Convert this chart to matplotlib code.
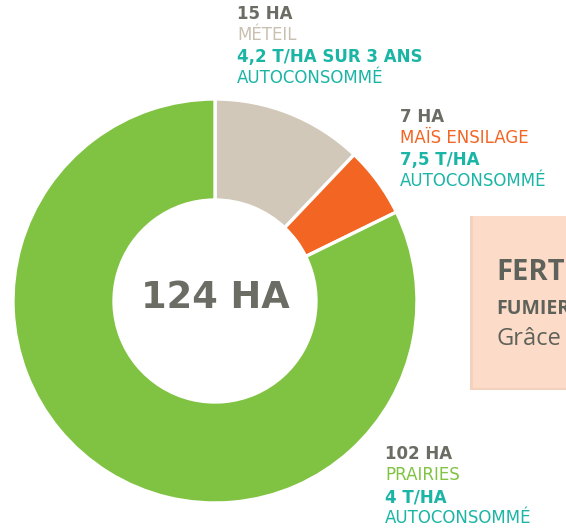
import matplotlib
matplotlib.use("Agg")
import matplotlib.pyplot as plt
from matplotlib.patches import Rectangle

# Data
categories = ["MÉTEIL", "MAÏS ENSILAGE", "PRAIRIES"]
hectares = [15, 7, 102]
yields = ["4,2 T/HA SUR 3 ANS", "7,5 T/HA", "4 T/HA"]
usage = ["AUTOCONSOMMÉ", "AUTOCONSOMMÉ", "AUTOCONSOMMÉ"]
total_label = "124 HA"
colors = ["#d1c8b9", "#f26522", "#80c342"]
label_colors = ["#c9c0b1", "#f26522", "#80c342"]

GREY = "#6b6c63"
TEAL = "#1bb5a6"
FONT = "DejaVu Sans"

fig = plt.figure(figsize=(5.66, 5.28), dpi=100)
ax = fig.add_axes([0, 0, 1, 1])
ax.set_xlim(0, 566)
ax.set_ylim(528, 0)
ax.axis("off")

# Peach box (partially visible)
ax.add_patch(Rectangle((470, 216), 120, 174, facecolor="#f3d2bd", edgecolor="none", zorder=1))
ax.add_patch(Rectangle((473, 216), 120, 172, facecolor="#fcdcc8", edgecolor="none", zorder=1))
ax.text(496, 272, "FERT", fontsize=21, fontweight="bold", color="#5f625a", va="center", ha="left", family="Open Sans", zorder=2)
ax.text(496, 309, "FUMIER", fontsize=14, fontweight="bold", color="#5f625a", va="center", ha="left", family="Open Sans", zorder=2)
ax.text(496, 339, "Grâce", fontsize=17, color="#5f625a", va="center", ha="left", family="Open Sans", zorder=2)

# Donut
cx, cy, R = 215, 301, 202
pie_ax = fig.add_axes([(cx - R) / 566, 1 - (cy + R) / 528, 2 * R / 566, 2 * R / 528])
pie_ax.pie(hectares, colors=colors, startangle=90, counterclock=False, radius=1,
           wedgeprops=dict(width=0.5, edgecolor="white", linewidth=2.4))
pie_ax.set_xlim(-1, 1)
pie_ax.set_ylim(-1, 1)
pie_ax.set_aspect("auto")
pie_ax.axis("off")

ax.text(cx, 298, total_label, fontsize=26.5, fontweight="bold", color=GREY,
        ha="center", va="center", family=FONT, zorder=5)

# Labels
label_pos = [(237, 14), (400, 117), (385, 454)]
for (x, y), cat, ha_, yl, us, lc in zip(label_pos, categories, hectares, yields, usage, label_colors):
    ax.text(x, y, f"{ha_} HA", fontsize=12, fontweight="bold", color=GREY, va="center", family=FONT)
    ax.text(x, y + 21, cat, fontsize=12, color=lc, va="center", family=FONT)
    ax.text(x, y + 43, yl, fontsize=12, fontweight="bold", color=TEAL, va="center", family=FONT)
    ax.text(x, y + 64, us, fontsize=12, color=TEAL, va="center", family=FONT)

fig.savefig("out.png", dpi=100)
